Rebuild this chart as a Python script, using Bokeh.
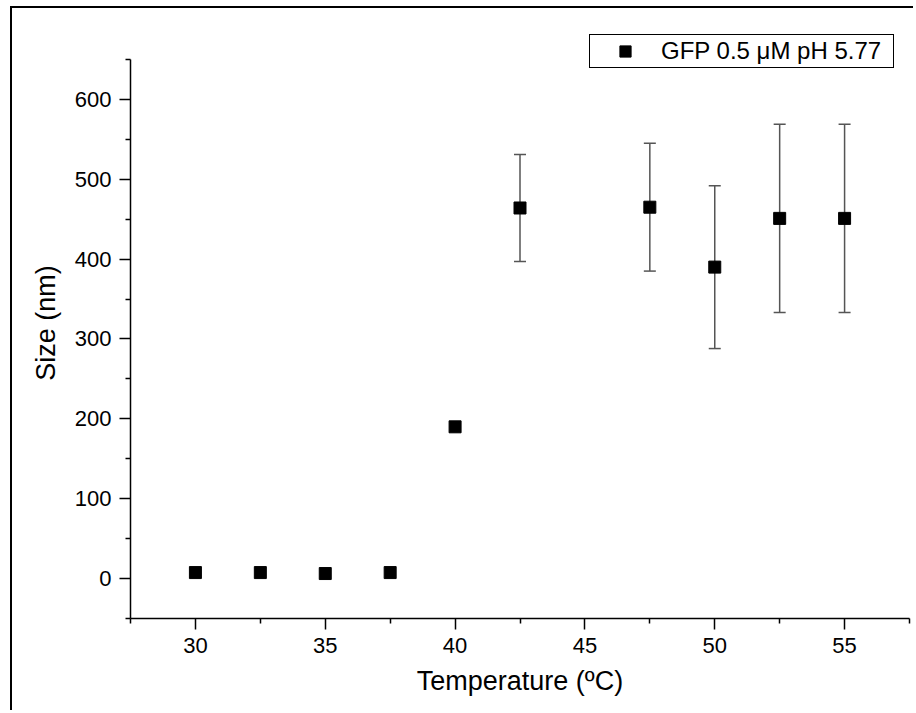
from bokeh.plotting import figure
from bokeh.models import ColumnDataSource, FixedTicker, Legend, LegendItem
from bokeh.embed import file_html
from bokeh.resources import INLINE

# ---- data ----
temperature = [30, 32.5, 35, 37.5, 40, 42.5, 47.5, 50, 52.5, 55]
size_nm = [7.5, 7.5, 6.3, 7.5, 190, 464, 465, 390, 451, 451]
size_err = [0, 0, 0, 0, 0, 67, 80, 102, 118, 118]

x_ticks = [30, 35, 40, 45, 50, 55]
x_minor = [27.5, 32.5, 37.5, 42.5, 47.5, 52.5, 57.5]
y_ticks = [0, 100, 200, 300, 400, 500, 600]
y_minor = [-50, 50, 150, 250, 350, 450, 550, 650]
series_label = "GFP 0.5 \u03bcM pH 5.77"

FONT = "Liberation Sans"

W, H = 903, 704
p = figure(width=W, height=H, output_backend="svg", toolbar_location=None,
           x_range=(27.5, 57.5), y_range=(-50, 690),
           min_border_left=118, min_border_top=19, min_border_right=6,
           min_border_bottom=94)
p.styles = {"border-left": "2px solid black", "border-top": "2px solid black",
            "margin-left": "10px", "margin-top": "6px"}
p.outline_line_color = None
p.xgrid.visible = False
p.ygrid.visible = False
p.background_fill_color = "white"
p.border_fill_color = "white"

# error bars
eb = [(t, s, e) for t, s, e in zip(temperature, size_nm, size_err) if e > 0]
err_src = ColumnDataSource(dict(
    x=[r[0] for r in eb],
    lower=[r[1] - r[2] for r in eb],
    upper=[r[1] + r[2] for r in eb],
))
p.segment(x0="x", y0="lower", x1="x", y1="upper", source=err_src,
          line_color="#555555", line_width=1.5)
p.scatter(x="x", y="lower", source=err_src, marker="dash", size=12,
          line_color="#555555", line_width=1.5)
p.scatter(x="x", y="upper", source=err_src, marker="dash", size=12,
          line_color="#555555", line_width=1.5)

src = ColumnDataSource(dict(x=temperature, y=size_nm))
pts = p.scatter(x="x", y="y", source=src, marker="square", size=12,
                fill_color="black", line_color="black")

# axes
for ax in (p.xaxis[0], p.yaxis[0]):
    ax.axis_line_width = 1.5
    ax.axis_line_color = "black"
    ax.major_tick_line_width = 1.5
    ax.minor_tick_line_width = 1.5
    ax.major_tick_line_color = "black"
    ax.minor_tick_line_color = "black"
    ax.major_tick_in = 0
    ax.major_tick_out = 11
    ax.minor_tick_in = 0
    ax.minor_tick_out = 5
    ax.major_label_text_font = FONT
    ax.major_label_text_font_size = "22px"
    ax.major_label_text_color = "black"
    ax.axis_label_text_font = FONT
    ax.axis_label_text_font_size = "27px"
    ax.axis_label_text_font_style = "normal"
    ax.axis_label_text_color = "black"
    ax.major_label_standoff = 8

p.yaxis.bounds = (-50, 650)
p.xaxis.ticker = FixedTicker(ticks=x_ticks, minor_ticks=x_minor)
p.yaxis.ticker = FixedTicker(ticks=y_ticks, minor_ticks=y_minor)
p.xaxis.axis_label = "Temperature (\u00baC)"
p.yaxis.axis_label = "Size (nm)"
p.xaxis.axis_label_standoff = 10
p.yaxis.axis_label_standoff = 11

legend = Legend(items=[LegendItem(label=series_label, renderers=[pts])],
                location=(459, 550), padding=2, margin=0,
                glyph_width=66, glyph_height=28, label_standoff=3,
                label_width=230,
                label_text_font=FONT, label_text_font_size="24px",
                label_text_color="black",
                border_line_color="black", border_line_width=1,
                border_line_alpha=1.0,
                background_fill_color="white", background_fill_alpha=1)
p.add_layout(legend)

open("out.html", "w").write(file_html(p, INLINE))
